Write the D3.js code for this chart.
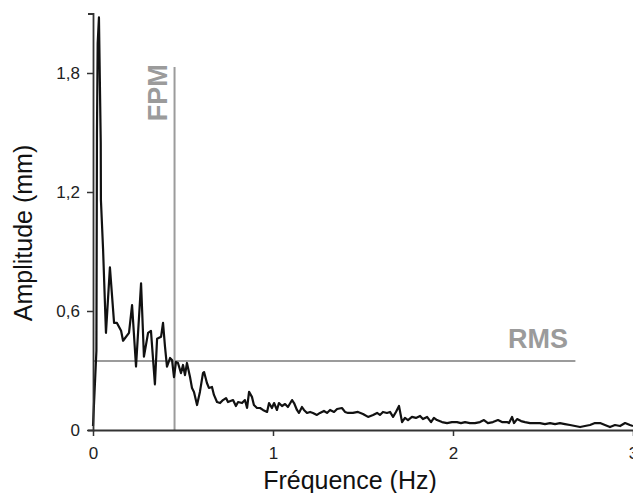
<!DOCTYPE html>
<html>
<head>
<meta charset="utf-8">
<script src="https://cdn.jsdelivr.net/npm/d3@7"></script>
<style>
  html, body { margin: 0; padding: 0; background: #fff; }
  svg { display: block; }
</style>
</head>
<body>
<svg id="chart" width="633" height="493"></svg>
<script>
// ---- Data ----
const freq = [0, 0.019, 0.022, 0.026, 0.033, 0.043, 0.044, 0.056, 0.072,
  0.094, 0.117, 0.133, 0.156, 0.167, 0.2, 0.217, 0.239, 0.267, 0.283, 0.306, 0.322, 0.344, 0.356, 0.378, 0.389,
  0.4, 0.411, 0.428, 0.439, 0.45, 0.461, 0.472, 0.489, 0.5, 0.511, 0.522, 0.539, 0.55, 0.561, 0.578, 0.594,
  0.611, 0.617, 0.633, 0.644, 0.661, 0.672, 0.689, 0.706, 0.722, 0.739, 0.75, 0.778, 0.794, 0.806, 0.828,
  0.844, 0.856, 0.867, 0.883, 0.894, 0.911, 0.928, 0.944, 0.967, 0.978, 0.994, 1.006, 1.022, 1.033, 1.05,
  1.067, 1.083, 1.106, 1.117, 1.133, 1.144, 1.161, 1.172, 1.189, 1.206, 1.222, 1.244, 1.261, 1.283, 1.3,
  1.317, 1.339, 1.356, 1.383, 1.4, 1.417, 1.444, 1.472, 1.5, 1.528, 1.556, 1.578, 1.594, 1.611, 1.633,
  1.65, 1.667, 1.683, 1.7, 1.717, 1.733, 1.75, 1.772, 1.794, 1.817, 1.833, 1.856, 1.878, 1.894, 1.911,
  1.939, 1.967, 1.994, 2.022, 2.044, 2.067, 2.094, 2.122, 2.15, 2.172, 2.194, 2.222, 2.25, 2.272, 2.3,
  2.311, 2.328, 2.339, 2.356, 2.378, 2.4, 2.428, 2.456, 2.483, 2.511, 2.539, 2.567, 2.594, 2.622, 2.65,
  2.678, 2.706, 2.733, 2.761, 2.789, 2.817, 2.844, 2.872, 2.9, 2.928, 2.956, 2.983, 3.0];
const amplitude = [0.02, 0.4, 1.5, 1.95, 2.08, 1.45, 1.16, 0.91, 0.49,
  0.82, 0.54, 0.54, 0.50, 0.45, 0.49, 0.63, 0.32, 0.74, 0.37, 0.49, 0.50, 0.23, 0.46, 0.47, 0.54,
  0.42, 0.32, 0.363, 0.353, 0.267, 0.343, 0.338, 0.287, 0.328, 0.277, 0.338, 0.267, 0.212, 0.192, 0.126, 0.192,
  0.287, 0.292, 0.237, 0.212, 0.217, 0.177, 0.141, 0.136, 0.151, 0.161, 0.141, 0.151, 0.121, 0.141, 0.136,
  0.151, 0.111, 0.192, 0.167, 0.126, 0.111, 0.111, 0.101, 0.091, 0.136, 0.111, 0.136, 0.101, 0.136, 0.121,
  0.131, 0.116, 0.151, 0.136, 0.101, 0.086, 0.116, 0.101, 0.086, 0.091, 0.086, 0.076, 0.086, 0.096, 0.086,
  0.101, 0.091, 0.106, 0.111, 0.091, 0.086, 0.086, 0.091, 0.081, 0.066, 0.076, 0.086, 0.076, 0.091, 0.086,
  0.091, 0.066, 0.091, 0.121, 0.04, 0.061, 0.05, 0.066, 0.061, 0.071, 0.055, 0.066, 0.04, 0.061, 0.05,
  0.04, 0.035, 0.04, 0.04, 0.035, 0.04, 0.035, 0.035, 0.04, 0.05, 0.035, 0.04, 0.05, 0.04, 0.04,
  0.035, 0.066, 0.035, 0.055, 0.045, 0.04, 0.035, 0.035, 0.035, 0.03, 0.035, 0.03, 0.035, 0.03, 0.025,
  0.02, 0.015, 0.02, 0.025, 0.035, 0.035, 0.025, 0.015, 0.025, 0.02, 0.035, 0.025, 0.02];

const xTicks = [0, 1, 2, 3];
const yTicks = [0, 0.6, 1.2, 1.8];
const fpmFreq = 0.453;      // FPM vertical marker (Hz)
const fpmTop = 1.83;        // top of FPM marker (mm)
const rmsValue = 0.348;     // RMS horizontal marker (mm)
const rmsEnd = 2.68;        // right end of RMS marker (Hz)
const xTitle = "Fréquence (Hz)";
const yTitle = "Amplitude (mm)";

// ---- Layout ----
const svg = d3.select("#chart");
const mLeft = 93, mRight = 633, mTop = 13.5, mBottom = 430;
const font = "'Liberation Sans', Arial, Helvetica, sans-serif";

const x = d3.scaleLinear().domain([0, 3]).range([mLeft, mRight]);
const y = d3.scaleLinear().domain([0, 2.1]).range([mBottom, mTop]);

const gray = "#9b9b9b";

// Reference lines
svg.append("line")
  .attr("x1", x(fpmFreq)).attr("x2", x(fpmFreq))
  .attr("y1", y(0)).attr("y2", y(fpmTop))
  .attr("stroke", gray).attr("stroke-width", 2);
svg.append("line")
  .attr("x1", x(0)).attr("x2", x(rmsEnd))
  .attr("y1", y(rmsValue)).attr("y2", y(rmsValue))
  .attr("stroke", gray).attr("stroke-width", 2);

// Labels for reference lines
svg.append("text")
  .attr("transform", `translate(${x(fpmFreq) - 8},${y(1.7)}) rotate(-90)`)
  .attr("text-anchor", "middle")
  .attr("font-family", font).attr("font-weight", "bold")
  .attr("font-size", 27).attr("fill", gray)
  .text("FPM");
svg.append("text")
  .attr("x", 568).attr("y", 348)
  .attr("text-anchor", "end")
  .attr("font-family", font).attr("font-weight", "bold")
  .attr("font-size", 27).attr("fill", gray)
  .text("RMS");

// Spectrum line
const pts = freq.map((f, i) => [f, amplitude[i]]);
svg.append("path")
  .datum(pts)
  .attr("fill", "none")
  .attr("stroke", "#111")
  .attr("stroke-width", 2.2)
  .attr("stroke-linejoin", "round")
  .attr("d", d3.line().x(d => x(d[0])).y(d => y(d[1])));

// Axes
const yAxis = d3.axisLeft(y).tickValues(yTicks)
  .tickFormat(d => d === 0 ? "0" : String(d).replace(".", ","))
  .tickSize(6).tickSizeOuter(5).tickPadding(7);
const xAxis = d3.axisBottom(x).tickValues(xTicks)
  .tickFormat(d => String(d))
  .tickSize(6).tickSizeOuter(0).tickPadding(11);

const gy = svg.append("g").attr("transform", `translate(${mLeft},0)`).call(yAxis);
const gx = svg.append("g").attr("transform", `translate(0,${mBottom})`).call(xAxis);

[gx, gy].forEach(g => {
  g.select(".domain").attr("stroke", "#333").attr("stroke-width", 1.8);
  g.selectAll(".tick line").attr("stroke", "#333").attr("stroke-width", 1.5);
  g.selectAll(".tick text")
    .attr("font-family", font).attr("font-size", 17).attr("fill", "#222");
});

// Axis titles
svg.append("text")
  .attr("x", 350).attr("y", 489)
  .attr("text-anchor", "middle")
  .attr("font-family", font).attr("font-size", 25).attr("fill", "#111")
  .text(xTitle);
svg.append("text")
  .attr("transform", `translate(32,233) rotate(-90)`)
  .attr("text-anchor", "middle")
  .attr("font-family", font).attr("font-size", 25).attr("fill", "#111")
  .text(yTitle);
</script>
</body>
</html>
